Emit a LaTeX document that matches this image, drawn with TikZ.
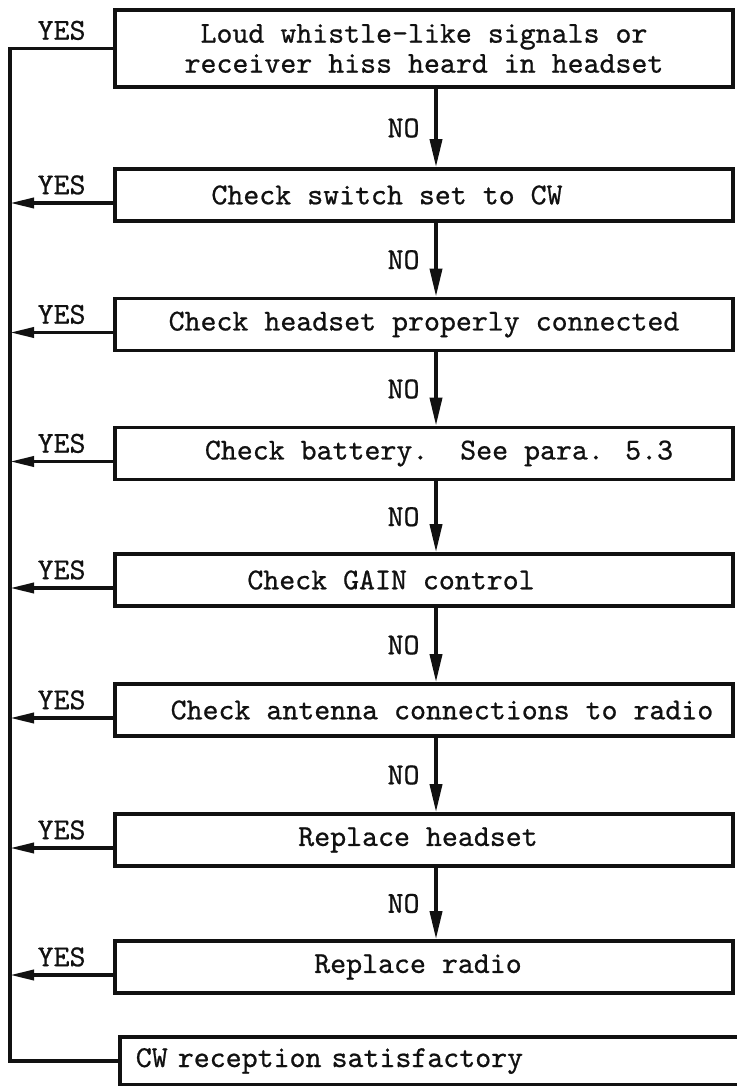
\documentclass[tikz,border=0pt]{standalone}
\usepackage{fontspec}
\newfontfamily\typefont{lmmono10-regular.otf}[FakeBold=0.7]
\usetikzlibrary{arrows.meta}
\definecolor{ink}{HTML}{111111}

\begin{document}
\begin{tikzpicture}[x=0.5pt,y=-0.5pt,
        font=\typefont\fontsize{15.2}{15}\selectfont,
        box/.style={draw=ink,line width=1.8pt,minimum width=309pt,minimum height=26pt,
          inner sep=2pt,align=center,text=ink},
        arr/.style={-{Triangle[length=14pt,width=6pt]},line width=1.8pt,draw=ink},
        yesarr/.style={-{Triangle[length=12pt,width=5pt]},line width=1.8pt,draw=ink},
        wire/.style={line width=1.8pt,draw=ink},
        nolab/.style={left=4pt,text=ink},
        yeslab/.style={above,text=ink}
      ]
        \useasboundingbox (0,0) rectangle (736,1086);
        \fill[white] (0,0) rectangle (736,1086);
        \node[box,minimum height=38.5pt] (b1) at (424,48.5) {Loud whistle-like signals or\\receiver hiss heard in headset};
        \node[box] (b2) at (424,195) {Check switch set to CW\hspace*{37pt}};
        \node[box] (b3) at (424,324.5) {Check headset properly connected};
        \node[box] (b4) at (424,453.5) {\hspace*{15pt}Check battery.\ \ See para. 5.3};
        \node[box] (b5) at (424,580) {Check GAIN control\hspace*{33pt}};
        \node[box] (b6) at (424,710) {\hspace*{18pt}Check antenna connections to radio};
        \node[box] (b7) at (424,840) {Replace headset\hspace*{6pt}};
        \node[box] (b8) at (424,967) {Replace radio\hspace*{6pt}};
        \node[box,anchor=west,minimum width=0pt,minimum height=24pt,inner xsep=8pt,
          text width=320pt,align=left] (b9) at (118,1061) {CW reception satisfactory};
        \coordinate (trunk) at (10,0);
        % NO path down the middle
        \foreach \a/\b in {b1/b2,b2/b3,b3/b4,b4/b5,b5/b6,b6/b7,b7/b8}
          \draw[arr] ([xshift=6pt]\a.south) -- node[nolab] {NO} ([xshift=6pt]\b.north);
        % YES path back to the left
        \draw[wire] (b1.west) -- (b1.west -| trunk) node[midway,yeslab] {YES}
          -- (b9.west -| trunk) -- (b9.west);
        \foreach \b in {b2,b3,b4,b5,b6,b7,b8} {
          \coordinate (yes) at ([yshift=-4pt]\b.west);
          \draw[yesarr] (yes) -- (yes -| trunk) node[midway,yeslab] {YES};
        }
      \end{tikzpicture}
\end{document}
